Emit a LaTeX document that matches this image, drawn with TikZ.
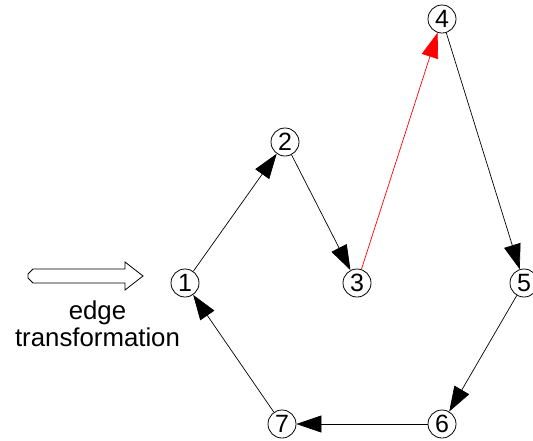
\documentclass[tikz,border=0pt]{standalone}
\usepackage{fontspec}
\setmainfont{Liberation Sans}
\usetikzlibrary{arrows.meta}
\begin{document}
\begin{tikzpicture}[x=1pt,y=-1pt,
  vertex/.style={draw,circle,line width=0.8pt,minimum size=28pt,inner sep=0pt,
    font=\fontsize{25}{25}\selectfont},
  edge/.style={line width=0.7pt,-{Triangle[length=25pt,width=17pt]}},
  caption/.style={anchor=base,font=\fontsize{25.8}{27}\selectfont}]
\useasboundingbox (0,0) rectangle (533,440);
% vertices of the cycle
\node[vertex] (n1) at (185,283) {1};
\node[vertex] (n2) at (285,142) {2};
\node[vertex] (n3) at (357,283) {3};
\node[vertex] (n4) at (442,19) {4};
\node[vertex] (n5) at (524,283) {5};
\node[vertex] (n6) at (442,424) {6};
\node[vertex] (n7) at (282,424) {7};
% directed edges
\draw[edge] (n1) -- (n2);
\draw[edge] (n2) -- (n3);
\draw[edge,red] (n3) -- (n4);
\draw[edge] (n4) -- (n5);
\draw[edge] (n5) -- (n6);
\draw[edge] (n6) -- (n7);
\draw[edge] (n7) -- (n1);
% hollow block arrow with caption
\draw[line width=0.8pt,fill=white] (28,274) -- (33,269) -- (125,269) -- (125,262)
  -- (143,276) -- (125,290) -- (125,283) -- (33,283) -- (28,278) -- cycle;
\node[caption] (capA) at (97.5,319) {edge};
\node[caption] (capB) at (97.5,346) {transformation};
\end{tikzpicture}
\end{document}
